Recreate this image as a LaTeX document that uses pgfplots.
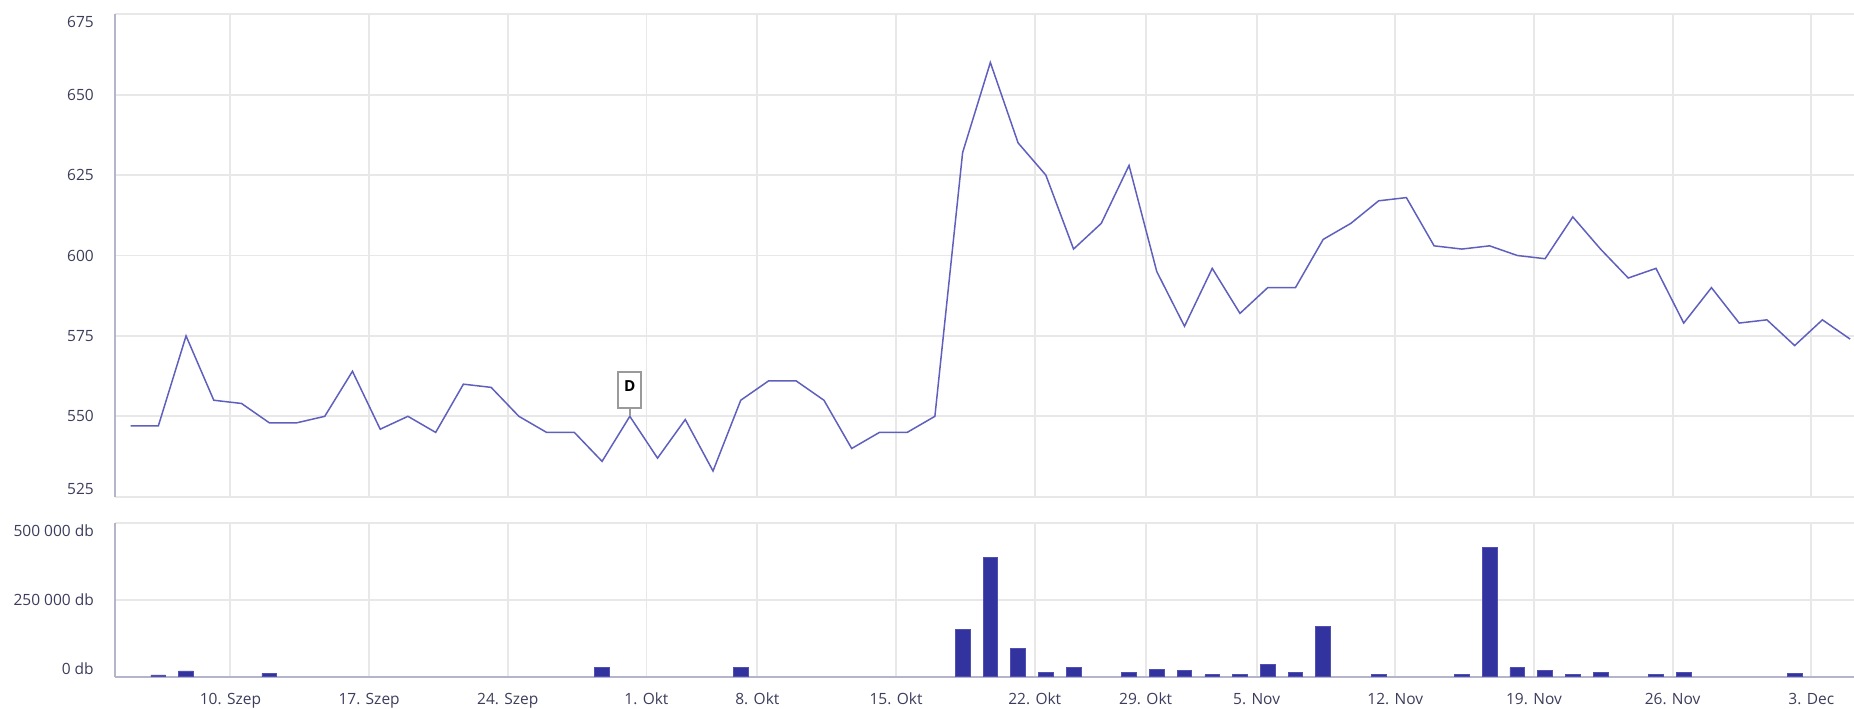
\documentclass[border=0pt]{standalone}
\usepackage{pgfplots}
\pgfplotsset{compat=1.18}
\usepackage{fontspec}
\setmainfont{Open Sans}
\definecolor{linecol}{HTML}{5F5FBD}
\definecolor{barcol}{HTML}{3333A0}
\definecolor{baredge}{HTML}{5050B2}
\definecolor{gridcol}{HTML}{E8E8E8}
\definecolor{axiscol}{HTML}{B4B4CC}
\definecolor{labcol}{HTML}{3C3C5C}
\definecolor{flagcol}{HTML}{9A9A9A}
\pgfplotsset{
  common/.style={
    scale only axis, width=695.7pt, anchor=south west,
    xmin=-0.571, xmax=62.14,
    xtick={3.6,8.6,13.6,18.6,22.6,27.6,32.6,36.6,40.6,45.6,50.6,55.6,60.6},
    major tick length=0pt,
    grid=major, major grid style={gridcol, line width=0.75pt},
    axis y line=left, y axis line style={axiscol, line width=0.8pt, -},
    axis x line=bottom,
    scaled y ticks=false,
    ticklabel style={font=\fontsize{6.2}{7}\selectfont, text=labcol, text height=4.43pt, text depth=0pt, inner sep=0pt},
    yticklabel style={anchor=east, xshift=-8.2pt},
    xticklabel style={anchor=center, yshift=-8.9pt},
  }
}
\begin{document}
\begin{tikzpicture}
\useasboundingbox (0,0) rectangle (741.6pt,283.6pt);
\begin{axis}[common, at={(45.9pt,84.9pt)}, height=193pt,
  ymin=525, ymax=675, ytick={525,550,575,600,625,650,675},
  yticklabels={\raisebox{3pt}{525},550,575,600,625,650,\raisebox{-3pt}{675}},
  xticklabels={}, x axis line style={draw=none}]
\addplot[linecol, line width=0.6pt, mark=none] coordinates {
(0,547) (1,547) (2,575) (3,555) (4,554) (5,548) (6,548) (7,550) (8,564) (9,546)
(10,550) (11,545) (12,560) (13,559) (14,550) (15,545) (16,545) (17,536) (18,550) (19,537)
(20,549) (21,533) (22,555) (23,561) (24,561) (25,555) (26,540) (27,545) (28,545) (29,550)
(30,632) (31,660) (32,635) (33,625) (34,602) (35,610) (36,628) (37,595) (38,578) (39,596)
(40,582) (41,590) (42,590) (43,605) (44,610) (45,617) (46,618) (47,603) (48,602) (49,603)
(50,600) (51,599) (52,612) (53,602) (54,593) (55,596) (56,579) (57,590) (58,579) (59,580)
(60,572) (61,580) (62,574)};
\addplot[flagcol, line width=0.8pt, mark=none, forget plot] coordinates {(18,550) (18,552.2)};
\addplot[draw=none, mark=none, forget plot, nodes near coords={\raisebox{1.6pt}{D}},
  every node near coord/.style={draw=flagcol, line width=0.8pt, fill=white, anchor=south,
  inner sep=0pt, minimum width=9.1pt, minimum height=14.6pt, text height=4.3pt, text depth=0pt,
  font=\fontsize{6.1}{7}\selectfont\bfseries, text=black}] coordinates {(18,552.2)};
\end{axis}
\begin{axis}[common, at={(45.9pt,12.9pt)}, height=61.4pt,
  ymin=0, ymax=500000, ytick={0,250000,500000},
  yticklabels={\raisebox{3pt}{0 db},250 000 db,\raisebox{-3pt}{500 000 db}},
  xticklabels={10. Szep,17. Szep,24. Szep,1. Okt,8. Okt,15. Okt,22. Okt,29. Okt,5. Nov,12. Nov,19. Nov,26. Nov,3. Dec},
  x axis line style={axiscol, line width=0.8pt, -}]
\addplot[ybar, bar width=0.53, bar shift=0pt, fill=barcol, draw=baredge, line width=0.3pt] coordinates {
(1,6000) (2,19000) (5,11000) (17,29000) (22,29000) (30,155000) (31,390000) (32,92000)
(33,15000) (34,29000) (36,15000) (37,24000) (38,19600) (39,6500) (40,6500) (41,39000)
(42,15000) (43,164000) (45,6500) (48,6500) (49,420000) (50,29000) (51,19600) (52,6500)
(53,15000) (55,6500) (56,15000) (60,11000)};
\end{axis}
\end{tikzpicture}
\end{document}
